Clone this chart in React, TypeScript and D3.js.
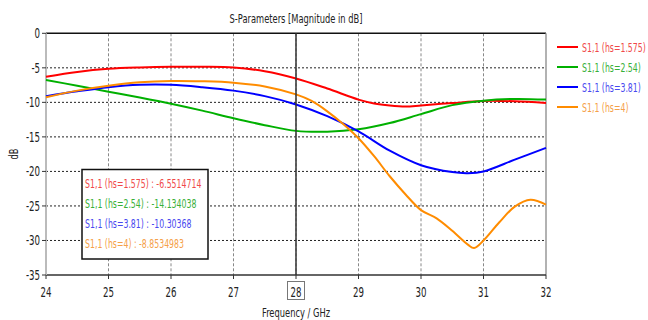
import React from "react";
import * as d3 from "d3";

const freqRed = [24, 24.5, 25, 25.5, 26, 26.5, 27, 27.5, 28, 28.5, 29, 29.25, 29.5, 29.75, 30, 30.5, 31, 31.5, 32];
const valRed = [-6.3, -5.6, -5.15, -4.95, -4.85, -4.85, -4.95, -5.5, -6.55, -8.0, -9.6, -10.15, -10.45, -10.6, -10.45, -10.1, -9.8, -9.85, -10.1];

const freqGreen = [24, 24.5, 25, 25.5, 26, 26.5, 27, 27.5, 28, 28.5, 29, 29.5, 30, 30.5, 31, 31.5, 32];
const valGreen = [-6.75, -7.6, -8.45, -9.3, -10.2, -11.2, -12.3, -13.3, -14.13, -14.25, -13.9, -13.0, -11.7, -10.4, -9.75, -9.5, -9.6];

const freqBlue = [24, 24.5, 25, 25.5, 26, 26.5, 27, 27.5, 28, 28.5, 29, 29.5, 30, 30.5, 30.75, 31, 31.5, 32];
const valBlue = [-9.1, -8.4, -7.8, -7.45, -7.45, -7.8, -8.3, -9.1, -10.3, -12.0, -14.2, -17.0, -19.1, -20.1, -20.25, -20.0, -18.3, -16.6];

const freqOrange = [24, 24.5, 25, 25.5, 26, 26.5, 27, 27.5, 28, 28.25, 28.5, 28.75, 29, 29.25, 29.5, 29.75, 30, 30.25, 30.5, 30.75, 30.85, 31, 31.25, 31.5, 31.75, 32];
const valOrange = [-9.25, -8.3, -7.6, -7.1, -6.9, -6.95, -7.15, -7.7, -8.85, -9.8, -11.3, -13.1, -15.2, -17.8, -20.7, -23.3, -25.6, -26.8, -28.6, -30.6, -31.1, -30.0, -27.4, -25.1, -24.1, -24.8];

const seriesNames = ["S1,1 (hs=1.575)", "S1,1 (hs=2.54)", "S1,1 (hs=3.81)", "S1,1 (hs=4)"];
const markerValues = ["-6.5514714", "-14.134038", "-10.30368", "-8.8534983"];
const xTicks = [24, 25, 26, 27, 28, 29, 30, 31, 32];
const yTicks = [0, -5, -10, -15, -20, -25, -30, -35];
const markerFreq = 28;
const titleText = "S-Parameters [Magnitude in dB]";
const xLabel = "Frequency / GHz";
const yLabel = "dB";

const lineColors = ["#ff0000", "#00b000", "#0000ff", "#ff8c00"];
const textColors = ["#f04848", "#38b038", "#4848f0", "#f5a048"];

const FONT = "'DejaVu Sans', sans-serif";

function T(props: {
  x: number;
  y: number;
  anchor?: "start" | "middle" | "end";
  size?: number;
  fill?: string;
  rotate?: number;
  sx?: number;
  children: React.ReactNode;
}) {
  const { x, y, anchor = "start", size = 13, fill = "#222", rotate = 0, sx = 0.64, children } = props;
  return (
    <text
      transform={`translate(${x},${y}) rotate(${rotate}) scale(${sx},1)`}
      textAnchor={anchor}
      fontSize={size}
      fill={fill}
    >
      {children}
    </text>
  );
}

export default function App() {
  const x = d3.scaleLinear().domain([24, 32]).range([46, 546]);
  const y = d3.scaleLinear().domain([-35, 0]).range([275, 33.3]);
  const series = [
    { f: freqRed, v: valRed },
    { f: freqGreen, v: valGreen },
    { f: freqBlue, v: valBlue },
    { f: freqOrange, v: valOrange },
  ];
  const line = d3
    .line<[number, number]>()
    .x((d) => x(d[0]))
    .y((d) => y(d[1]))
    .curve(d3.curveCatmullRom.alpha(0.5));

  const [y0, y1] = y.range();
  const [x0, x1] = x.range();

  return (
    <svg
      width={648}
      height={320}
      style={{ position: "absolute", left: 0, top: 0, background: "#fff" }}
      fontFamily={FONT}
    >
      <rect x={0} y={0} width={648} height={320} fill="#fff" />
      {/* grid */}
      {xTicks.slice(1, -1).map((t) => (
        <line key={"gx" + t} x1={x(t)} x2={x(t)} y1={y1} y2={y0} stroke="#888" strokeWidth={1} strokeDasharray="3,2" />
      ))}
      {yTicks.slice(1, -1).map((t) => (
        <line key={"gy" + t} x1={x0} x2={x1} y1={y(t)} y2={y(t)} stroke="#222" strokeWidth={1} strokeDasharray="2,2" />
      ))}
      {/* frame */}
      <line x1={x0} x2={x1} y1={y1} y2={y1} stroke="#111" strokeWidth={1.5} />
      <line x1={x1} x2={x1} y1={y1} y2={y0} stroke="#999" strokeWidth={1.5} />
      <line x1={x0} x2={x1} y1={y0} y2={y0} stroke="#333" strokeWidth={1.5} />
      <line x1={x0} x2={x0} y1={y1} y2={y0} stroke="#bbb" strokeWidth={2} />
      {xTicks.map((t) => (
        <line key={"tx" + t} x1={x(t)} x2={x(t)} y1={y0} y2={y0 + 4} stroke="#333" strokeWidth={1} />
      ))}
      {yTicks.map((t) => (
        <line key={"ty" + t} x1={x0 - 4} x2={x0} y1={y(t)} y2={y(t)} stroke="#333" strokeWidth={1} />
      ))}
      {/* tick labels */}
      {xTicks.map((t) => (
        <T key={"lx" + t} x={x(t)} y={297} anchor="middle" size={13.5}>
          {t}
        </T>
      ))}
      {yTicks.map((t) => (
        <T key={"ly" + t} x={40} y={y(t) + 5} anchor="end" size={13.5}>
          {t}
        </T>
      ))}
      <rect x={x(markerFreq) - 8.5} y={281.5} width={17} height={18} fill="none" stroke="#777" strokeWidth={1} />
      {/* series */}
      {series.map((s, i) => (
        <path
          key={"s" + i}
          d={line(s.f.map((f, j) => [f, s.v[j]] as [number, number])) || ""}
          fill="none"
          stroke={lineColors[i]}
          strokeWidth={2}
        />
      ))}
      {/* marker line */}
      <line x1={x(markerFreq)} x2={x(markerFreq)} y1={y1} y2={y0} stroke="#333" strokeWidth={1.5} />
      {/* marker box */}
      <rect x={82} y={169.5} width={126} height={89.5} fill="#fff" stroke="#111" strokeWidth={1.5} />
      {seriesNames.map((n, i) => (
        <T key={"m" + i} x={85} y={187.5 + i * 20.2} size={13} sx={0.6} fill={textColors[i]}>
          {n + " : " + markerValues[i]}
        </T>
      ))}
      {/* legend */}
      {seriesNames.map((n, i) => (
        <g key={"lg" + i}>
          <line x1={557} x2={578} y1={47 + i * 20} y2={47 + i * 20} stroke={lineColors[i]} strokeWidth={2} />
          <T x={582} y={51.5 + i * 20} size={13} sx={0.6} fill={textColors[i]}>
            {n}
          </T>
        </g>
      ))}
      {/* titles */}
      <T x={296} y={23} anchor="middle" size={13}>
        {titleText}
      </T>
      <T x={296} y={317} anchor="middle" size={13}>
        {xLabel}
      </T>
      <T x={18} y={154} anchor="middle" size={13} rotate={-90}>
        {yLabel}
      </T>
    </svg>
  );
}
